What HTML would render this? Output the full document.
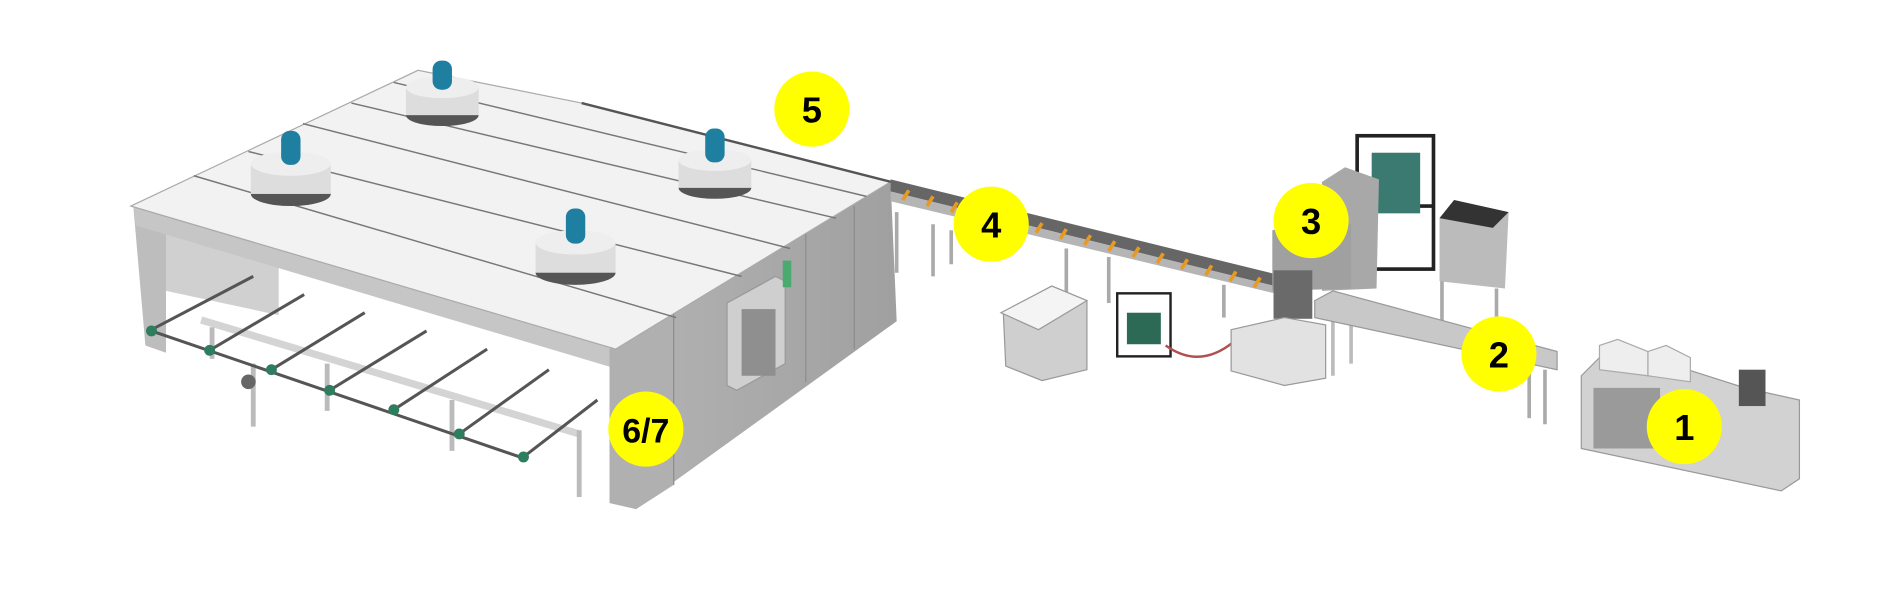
<!DOCTYPE html>
<html><head><style>html,body{margin:0;padding:0;background:#fff}svg{display:block}</style></head>
<body>
<svg width="1900" height="600" viewBox="0 0 1568 495" preserveAspectRatio="none" xmlns="http://www.w3.org/2000/svg">
<defs>
<linearGradient id="side" x1="0" x2="1"><stop offset="0" stop-color="#b4b4b4"/><stop offset="1" stop-color="#a0a0a0"/></linearGradient>
</defs>
<!-- dryer left wall -->
<polygon points="110,170 137,182 137,291 120,285" fill="#bdbdbd"/>
<polygon points="137,190 230,220 230,260 137,240" fill="#d0d0d0"/>
<!-- under-frame beams -->
<g stroke="#d4d4d4" stroke-width="6" fill="none">
<line x1="166" y1="264" x2="478" y2="358"/>
</g>
<g stroke="#bbb" stroke-width="4">
<line x1="209" y1="300" x2="209" y2="352"/><line x1="270" y1="300" x2="270" y2="339"/>
<line x1="373" y1="330" x2="373" y2="372"/><line x1="478" y1="355" x2="478" y2="410"/>
<line x1="175" y1="270" x2="175" y2="296"/>
</g>
<g stroke="#555" stroke-width="2.5" fill="none">
<line x1="125" y1="272" x2="209" y2="228"/>
<line x1="173" y1="289" x2="251" y2="243"/>
<line x1="224" y1="305" x2="301" y2="258"/>
<line x1="272" y1="322" x2="352" y2="273"/>
<line x1="325" y1="338" x2="402" y2="288"/>
<line x1="379" y1="358" x2="453" y2="305"/>
<line x1="432" y1="377" x2="493" y2="330"/>
<line x1="125" y1="273" x2="432" y2="378"/>
</g>
<circle cx="205" cy="315" r="6" fill="#666"/>
<g fill="#2e7d5e"><circle cx="125" cy="273" r="4.5"/><circle cx="173" cy="289" r="4.5"/><circle cx="224" cy="305" r="4.5"/><circle cx="272" cy="322" r="4.5"/><circle cx="325" cy="338" r="4.5"/><circle cx="379" cy="358" r="4.5"/><circle cx="432" cy="377" r="4.5"/></g>
<!-- canopy band -->
<polygon points="110,168 508,288 508,304 112,186" fill="#c6c6c6"/>
<!-- front (6/7) panel and right side -->
<polygon points="503,288 735,150 740,265 525,420 503,415" fill="url(#side)"/>
<polygon points="503,288 556,257 556,400 525,420 503,415" fill="#b0b0b0"/>
<g stroke="#8c8c8c" stroke-width="1"><line x1="556" y1="257" x2="556" y2="400"/><line x1="665" y1="193" x2="665" y2="315"/><line x1="705" y1="170" x2="705" y2="288"/></g>
<polygon points="600,250 640,228 648,232 648,300 608,322 600,318" fill="#cfcfcf" stroke="#999"/>
<rect x="612" y="255" width="28" height="55" fill="#8f8f8f"/>
<rect x="646" y="215" width="7" height="22" fill="#4aaa70"/>
<!-- roof -->
<polygon points="108,170 345,58 480,85 735,150 508,288" fill="#f2f2f2" stroke="#aaa"/>
<g stroke="#777" stroke-width="1.2">
<line x1="160" y1="145" x2="558" y2="262"/><line x1="205" y1="125" x2="612" y2="228"/>
<line x1="250" y1="102" x2="652" y2="205"/><line x1="290" y1="85" x2="690" y2="180"/>
<line x1="325" y1="68" x2="715" y2="162"/></g>
<line x1="480" y1="85" x2="735" y2="150" stroke="#555" stroke-width="2"/>
<!-- fans -->
<g>
<ellipse cx="240" cy="160" rx="33" ry="10" fill="#555"/><rect x="207" y="135" width="66" height="25" fill="#ddd"/><ellipse cx="240" cy="135" rx="33" ry="10" fill="#eee"/><rect x="232" y="108" width="16" height="28" rx="7" fill="#1f7fa0"/>
<ellipse cx="365" cy="95" rx="30" ry="9" fill="#555"/><rect x="335" y="72" width="60" height="23" fill="#ddd"/><ellipse cx="365" cy="72" rx="30" ry="9" fill="#eee"/><rect x="357" y="50" width="16" height="24" rx="7" fill="#1f7fa0"/>
<ellipse cx="590" cy="155" rx="30" ry="9" fill="#555"/><rect x="560" y="132" width="60" height="23" fill="#ddd"/><ellipse cx="590" cy="132" rx="30" ry="9" fill="#eee"/><rect x="582" y="106" width="16" height="28" rx="7" fill="#1f7fa0"/>
<ellipse cx="475" cy="225" rx="33" ry="10" fill="#555"/><rect x="442" y="200" width="66" height="25" fill="#ddd"/><ellipse cx="475" cy="200" rx="33" ry="10" fill="#eee"/><rect x="467" y="172" width="16" height="29" rx="7" fill="#1f7fa0"/>
</g>
<!-- conveyor 4 -->
<g stroke="#aaa" stroke-width="3"><line x1="740" y1="175" x2="740" y2="225"/><line x1="770" y1="185" x2="770" y2="228"/><line x1="785" y1="190" x2="785" y2="218"/><line x1="880" y1="205" x2="880" y2="245"/><line x1="915" y1="212" x2="915" y2="250"/><line x1="1010" y1="235" x2="1010" y2="262"/></g>
<polygon points="735,148 1060,228 1060,238 735,158" fill="#666"/>
<polygon points="735,158 1060,238 1060,244 735,166" fill="#b5b5b5"/>
<g stroke="#e89a20" stroke-width="3">
<line x1="750" y1="157" x2="745" y2="165"/><line x1="770" y1="162" x2="765" y2="170"/><line x1="790" y1="167" x2="785" y2="175"/>
<line x1="860" y1="184" x2="855" y2="192"/><line x1="880" y1="189" x2="875" y2="197"/><line x1="900" y1="194" x2="895" y2="202"/><line x1="920" y1="199" x2="915" y2="207"/><line x1="940" y1="204" x2="935" y2="212"/><line x1="960" y1="209" x2="955" y2="217"/><line x1="980" y1="214" x2="975" y2="222"/><line x1="1000" y1="219" x2="995" y2="227"/><line x1="1020" y1="224" x2="1015" y2="232"/><line x1="1040" y1="229" x2="1035" y2="237"/></g>
<!-- control panel -->
<polygon points="828,258 868,236 897,248 897,305 860,314 830,302" fill="#cfcfcf" stroke="#999"/>
<polygon points="826,258 868,236 897,248 857,272" fill="#f4f4f4" stroke="#999"/>
<!-- small green unit -->
<rect x="922" y="242" width="44" height="52" fill="none" stroke="#222" stroke-width="2"/><rect x="930" y="258" width="28" height="26" fill="#2c6a55"/>
<path d="M962 285 Q990 305 1018 282" stroke="#b05050" stroke-width="2" fill="none"/>
<!-- machine 3 -->
<rect x="1120" y="112" width="63" height="110" fill="none" stroke="#222" stroke-width="3"/>
<line x1="1140" y1="170" x2="1183" y2="170" stroke="#222" stroke-width="3"/>
<rect x="1132" y="126" width="40" height="50" fill="#3a7a70"/>
<polygon points="1091,150 1110,138 1138,148 1136,238 1091,240" fill="#a8a8a8"/>
<polygon points="1050,190 1091,180 1115,185 1115,238 1050,240" fill="#a0a0a0"/>
<rect x="1051" y="223" width="32" height="40" fill="#6a6a6a"/>
<polygon points="1016,272 1060,262 1094,268 1094,312 1060,318 1016,306" fill="#e2e2e2" stroke="#999"/>
<g stroke="#bbb" stroke-width="3"><line x1="1100" y1="260" x2="1100" y2="310"/><line x1="1115" y1="255" x2="1115" y2="300"/></g>
<!-- hopper -->
<polygon points="1188,180 1200,165 1245,175 1242,238 1188,232" fill="#bbb"/>
<polygon points="1188,180 1200,165 1245,175 1232,188" fill="#333"/>
<g stroke="#aaa" stroke-width="3"><line x1="1190" y1="232" x2="1190" y2="265"/><line x1="1235" y1="238" x2="1235" y2="262"/><line x1="1275" y1="305" x2="1275" y2="350"/><line x1="1262" y1="300" x2="1262" y2="345"/></g>
<!-- conveyor 2 -->
<polygon points="1085,248 1100,240 1285,290 1285,305 1085,262" fill="#c8c8c8" stroke="#999"/>
<!-- machine 1 -->
<polygon points="1305,310 1330,285 1440,320 1485,330 1485,395 1470,405 1305,370" fill="#d2d2d2" stroke="#999"/>
<rect x="1315" y="320" width="55" height="50" fill="#9a9a9a"/>
<polygon points="1320,285 1335,280 1360,290 1360,310 1320,305" fill="#eee" stroke="#aaa"/>
<polygon points="1360,290 1375,285 1395,295 1395,315 1360,310" fill="#eee" stroke="#aaa"/>
<rect x="1435" y="305" width="22" height="30" fill="#555"/>
<!-- labels -->
<g fill="#ffff00">
<circle cx="670" cy="90" r="31"/><circle cx="818" cy="185" r="31"/><circle cx="1082" cy="182" r="31"/>
<circle cx="1237" cy="292" r="31"/><circle cx="1390" cy="352" r="31"/><circle cx="533" cy="354" r="31"/></g>
<g font-family="Liberation Sans, sans-serif" font-weight="bold" font-size="30" text-anchor="middle" fill="#000">
<text x="670" y="101">5</text><text x="818" y="196">4</text><text x="1082" y="193">3</text>
<text x="1237" y="303">2</text><text x="1390" y="363">1</text><text x="533" y="365" font-size="28">6/7</text></g>
</svg>
</body></html>
